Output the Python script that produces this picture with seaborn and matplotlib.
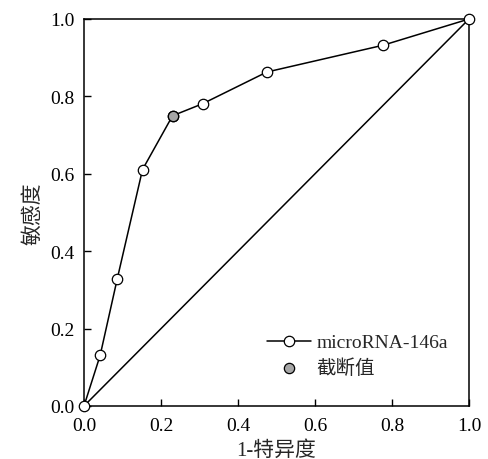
import matplotlib
matplotlib.use("Agg")
import matplotlib.pyplot as plt
import seaborn as sns
import pandas as pd

# ROC points
fpr = [0.0, 0.042, 0.086, 0.152, 0.230, 0.308, 0.475, 0.776, 1.0]
tpr = [0.0, 0.131, 0.327, 0.611, 0.750, 0.781, 0.863, 0.932, 1.0]
cut_fpr = [0.230]
cut_tpr = [0.750]
ticks = [0.0, 0.2, 0.4, 0.6, 0.8, 1.0]
series_label = "microRNA-146a"
cut_label = "截断值"

sns.set_style("white")
plt.rcParams['font.family'] = ['Liberation Serif', 'Noto Sans CJK SC']
plt.rcParams['axes.unicode_minus'] = False

roc = pd.DataFrame({'fpr': fpr, 'tpr': tpr})
cut = pd.DataFrame({'fpr': cut_fpr, 'tpr': cut_tpr})

fig = plt.figure(figsize=(4.88, 4.6), dpi=100)
ax = fig.add_axes([84 / 488, 1 - 407 / 460, 385 / 488, 387 / 460])

# reference diagonal
ax.plot([0, 1], [0, 1], color='black', lw=1.1, zorder=1)

sns.lineplot(data=roc, x='fpr', y='tpr', sort=False, ax=ax, color='black', lw=1.1,
             marker='o', markersize=7.5, markerfacecolor='white', markeredgecolor='black',
             markeredgewidth=0.9, label=series_label, clip_on=False, zorder=3)
sns.scatterplot(data=cut, x='fpr', y='tpr', ax=ax, color='#a6a6a6', edgecolor='black',
                linewidth=0.9, s=55, label=cut_label, zorder=4, clip_on=False)

ax.set_xlim(0, 1)
ax.set_ylim(0, 1)
ax.set_xticks(ticks)
ax.set_yticks(ticks)
ax.set_xticklabels([f"{t:.1f}" for t in ticks])
ax.set_yticklabels([f"{t:.1f}" for t in ticks])
ax.tick_params(direction='in', length=5, width=1, labelsize=14, colors='black',
               bottom=True, left=True, top=False, right=False)
ax.tick_params(axis='x', pad=8)
ax.tick_params(axis='y', pad=7)
for s in ax.spines.values():
    s.set_color('black')
    s.set_linewidth(1.1)

ax.set_xlabel("1-特异度", fontsize=15, labelpad=4)
ax.set_ylabel("敏感度", fontsize=15, labelpad=5)

leg = ax.legend(loc='lower right', bbox_to_anchor=(0.99, 0.03), frameon=False,
                fontsize=14, handlelength=2.3, handletextpad=0.25, labelspacing=0.35)

fig.savefig("out.png", dpi=100)
